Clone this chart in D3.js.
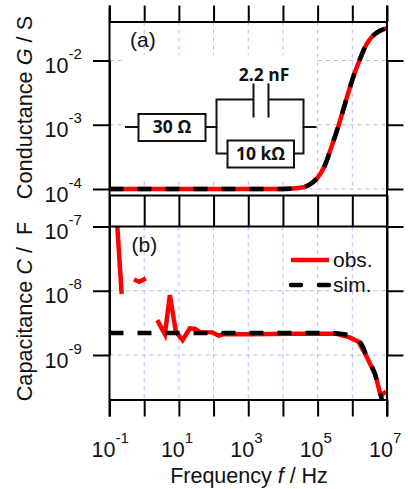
<!DOCTYPE html>
<meta charset="utf-8">
<style>
body { margin: 0; background: #fff; }
text { font-family: "Liberation Sans", Arial, sans-serif; fill: #111; }
.axis path, .axis line { stroke: #000; stroke-width: 2px; }
.grid { stroke: #b4b4ff; stroke-width: 1px; stroke-dasharray: 4 4; }
.wire { stroke: #111; stroke-width: 2px; fill: none; }
.part { font-family: "Open Sans", sans-serif; font-weight: 700; font-size: 17.5px; text-anchor: middle; }
</style>
<svg width="408" height="489"></svg>
<script src="https://d3js.org/d3.v7.min.js"></script>
<script>

var xTicks = [1e-1, 1, 1e1, 1e2, 1e3, 1e4, 1e5, 1e6, 1e7];
var xLabelled = [1e-1, 1e1, 1e3, 1e5, 1e7];
var gTicks = [1e-2, 1e-3, 1e-4];
var cTicks = [1e-7, 1e-8, 1e-9];

// conductance, obs and sim sit on top of each other
var gFreq = [1e-1, 1, 1e1, 1e2, 1e3, 1e4, 2e4, 4e4, 6.3e4, 1e5, 1.6e5, 2.5e5, 4e5, 6.3e5, 1e6, 1.6e6, 2.5e6, 4e6, 6.3e6, 1e7];
var gObs = [1e-4, 1e-4, 1e-4, 1e-4, 1e-4, 1e-4, 1.02e-4, 1.07e-4, 1.2e-4, 1.5e-4, 2.3e-4, 4.5e-4, 9.7e-4, 2.2e-3, 5e-3, 1e-2, 1.74e-2, 2.45e-2, 2.9e-2, 3.2e-2];
var gSim = [1e-4, 1e-4, 1e-4, 1e-4, 1e-4, 1e-4, 1.02e-4, 1.07e-4, 1.2e-4, 1.5e-4, 2.3e-4, 4.5e-4, 9.7e-4, 2.2e-3, 5e-3, 1e-2, 1.74e-2, 2.45e-2, 2.9e-2, 3.2e-2];

// capacitance, null = gap in the red line
var cObsFreq = [0.168, 0.224, 0.3, 0.507, 0.72, 1.12, 1.7, 2.38, 3.95, 5.5, 8.2, 12.8, 20.7, 28.8, 40, 91, 142, 197, 1100, 15500, 3.5e5, 8.7e5, 1.5e6, 2.6e6, 4.6e6, 6.3e6, 7.1e6, 9.5e6];
var cObs = [1e-7, 8.9e-9, null, 1.5e-8, 1.38e-8, 1.55e-8, null, 3.49e-9, 2.1e-9, 8.55e-9, 2.3e-9, 1.71e-9, 2.6e-9, 2.57e-9, 2.27e-9, 2.25e-9, 2.0e-9, 2.12e-9, 2.1e-9, 2.14e-9, 2.14e-9, 1.86e-9, 1.61e-9, 9.4e-10, 4.9e-10, 2.57e-10, 2.4e-10, 2.69e-10];
var cSimFreq = [1e-1, 1, 1e1, 1e2, 1e3, 1e4, 1e5, 3e5, 5e5, 1e6, 2e6, 2.6e6, 4.6e6, 6.3e6, 1e7];
var cSim = [2.2e-9, 2.2e-9, 2.2e-9, 2.2e-9, 2.2e-9, 2.2e-9, 2.2e-9, 2.18e-9, 2.12e-9, 1.94e-9, 1.35e-9, 9.4e-10, 4.9e-10, 2.57e-10, 1.1e-10];

var svg = d3.select("svg");

var left = 109.5, right = 387;
var aTop = 21.5, aBottom = 195, bTop = 226.5, bBottom = 399.5;

var x = d3.scaleLog().domain([1e-1, 1e7]).range([left, right]);
var yG = d3.scaleLog().domain([1e-4, 1e-2]).range([189, 60.5]);
var yC = d3.scaleLog().domain([1e-9, 1e-7]).range([355, 226.5]);

// grid
var grid = svg.append("g");
xTicks.slice(1, -1).forEach(function(t) {
  grid.append("line").attr("class", "grid").attr("x1", x(t)).attr("x2", x(t)).attr("y1", aTop).attr("y2", 190);
  grid.append("line").attr("class", "grid").attr("x1", x(t)).attr("x2", x(t)).attr("y1", bTop).attr("y2", bBottom);
});
gTicks.forEach(function(t) {
  grid.append("line").attr("class", "grid").attr("x1", left).attr("x2", right).attr("y1", yG(t)).attr("y2", yG(t));
});
[1e-8, 1e-9].forEach(function(t) {
  grid.append("line").attr("class", "grid").attr("x1", left).attr("x2", right).attr("y1", yC(t)).attr("y2", yC(t));
});

// inset covers the grid
svg.append("rect").attr("x", 124).attr("y", 55).attr("width", 192.5).attr("height", 123).attr("fill", "#fff");

// curves
svg.append("clipPath").attr("id", "clipB").append("rect")
  .attr("x", left).attr("y", bTop - 2).attr("width", right - left).attr("height", bBottom - bTop + 2);

function curve(freq, vals, yScale, smooth) {
  var line = d3.line()
    .defined(function(d, i) { return vals[i] !== null; })
    .x(function(d) { return x(d); })
    .y(function(d, i) { return yScale(vals[i]); });
  if (smooth) line.curve(d3.curveMonotoneX);
  return line(freq);
}

svg.append("path").attr("d", curve(gFreq, gObs, yG, true))
  .attr("fill", "none").attr("stroke", "#f00").attr("stroke-width", 4.5);
svg.append("path").attr("d", curve(gFreq, gSim, yG, true))
  .attr("fill", "none").attr("stroke", "#000").attr("stroke-width", 4.5).attr("stroke-dasharray", "14 14");

var curvesB = svg.append("g").attr("clip-path", "url(#clipB)");
curvesB.append("path").attr("d", curve(cObsFreq, cObs, yC, false))
  .attr("fill", "none").attr("stroke", "#f00").attr("stroke-width", 4.5);
curvesB.append("path").attr("d", curve(cSimFreq, cSim, yC, true))
  .attr("fill", "none").attr("stroke", "#000").attr("stroke-width", 4.5).attr("stroke-dasharray", "14 14");

// axes
function hAxis(axis, y, size) {
  svg.append("g").attr("class", "axis").attr("transform", "translate(0," + y + ")")
    .call(axis(x).tickValues(xTicks).tickFormat("").tickSize(size).tickSizeOuter(0));
}
hAxis(d3.axisTop, aTop, 16);
hAxis(d3.axisBottom, aBottom, 31);
hAxis(d3.axisBottom, bBottom, 17);

function vAxis(axis, xPos, scale, ticks) {
  svg.append("g").attr("class", "axis").attr("transform", "translate(" + xPos + ",0)")
    .call(axis(scale).tickValues(ticks).tickFormat("").tickSize(16.5).tickSizeOuter(0));
}
[left, right].forEach(function(p) {
  svg.append("line").attr("x1", p).attr("x2", p).attr("y1", 5.5).attr("y2", 416.5)
    .attr("stroke", "#000").attr("stroke-width", 2);
});
vAxis(d3.axisLeft, left, yG, gTicks);
vAxis(d3.axisRight, right, yG, gTicks);
vAxis(d3.axisLeft, left, yC, cTicks);
vAxis(d3.axisRight, right, yC, cTicks);
svg.append("line").attr("x1", left).attr("x2", right).attr("y1", bTop).attr("y2", bTop)
  .attr("stroke", "#000").attr("stroke-width", 2);

// tick labels, 10 with a raised exponent
function powerLabel(px, py, value) {
  var t = svg.append("text").attr("x", px).attr("y", py).attr("font-size", 21.5);
  t.append("tspan").text("10");
  t.append("tspan").attr("dy", -14).attr("font-size", 15).text(Math.round(Math.log10(value)));
}
gTicks.forEach(function(t) { powerLabel(44.5, yG(t) + 12.5, t); });
cTicks.forEach(function(t) { powerLabel(44.5, yC(t) + 12.5, t); });
xLabelled.forEach(function(t) { powerLabel(x(t) - 18, 456.5, t); });

// axis titles
function title(parent, before, italic, after) {
  parent.append("tspan").text(before);
  parent.append("tspan").attr("font-style", "italic").text(italic);
  parent.append("tspan").text(after);
}
title(svg.append("text").attr("text-anchor", "middle").attr("font-size", 21.7)
  .attr("transform", "translate(31.5,107.5) rotate(-90)"), "Conductance ", "G", " / S");
title(svg.append("text").attr("text-anchor", "middle").attr("font-size", 21.7)
  .attr("transform", "translate(31.5,311.5) rotate(-90)"), "Capacitance ", "C", " /\u00a0\u00a0F");
title(svg.append("text").attr("text-anchor", "middle").attr("font-size", 21.5)
  .attr("x", 249).attr("y", 483), "Frequency ", "f", " / Hz");

svg.append("text").attr("x", 130).attr("y", 47).attr("font-size", 21).text("(a)");
svg.append("text").attr("x", 131.5).attr("y", 252).attr("font-size", 21).text("(b)");

// legend
svg.append("line").attr("x1", 291).attr("x2", 329).attr("y1", 260).attr("y2", 260)
  .attr("stroke", "#f00").attr("stroke-width", 4.5);
svg.append("line").attr("x1", 291).attr("x2", 329).attr("y1", 285).attr("y2", 285)
  .attr("stroke", "#000").attr("stroke-width", 4.5).attr("stroke-linecap", "round").attr("stroke-dasharray", "10 18");
svg.append("text").attr("x", 333).attr("y", 266.5).attr("font-size", 21).text("obs.");
svg.append("text").attr("x", 333).attr("y", 292).attr("font-size", 21).text("sim.");

// equivalent circuit
var inset = svg.append("g");
function wire(d) { inset.append("path").attr("class", "wire").attr("d", d); }
wire("M125,127H138.5");
wire("M205.5,127H216.5V99.5H253.5");
wire("M268.5,99.5H303.5V127H316.5");
wire("M216.5,127V153.5H227.5");
wire("M294,153.5H303.5V127");
wire("M253.5,83.5V117.5");
wire("M268.5,83.5V117.5");
inset.append("rect").attr("class", "wire").attr("x", 138.5).attr("y", 114).attr("width", 67).attr("height", 27);
inset.append("rect").attr("class", "wire").attr("x", 227.5).attr("y", 140.5).attr("width", 66.5).attr("height", 27);
inset.append("text").attr("class", "part").attr("x", 172).attr("y", 133).text("30 \u03a9");
inset.append("text").attr("class", "part").attr("x", 260.5).attr("y", 160).text("10 k\u03a9");
inset.append("text").attr("class", "part").attr("x", 264).attr("y", 81).text("2.2 nF");

</script>
